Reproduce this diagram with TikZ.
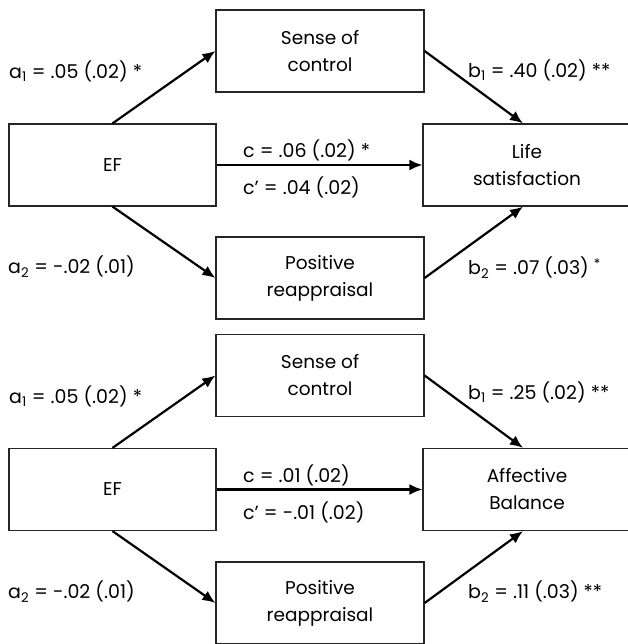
\documentclass[tikz,border=0pt]{standalone}
\usepackage{fontspec}
\setmainfont{Poppins}
\usepackage{xcolor}
\usepackage{tikz}
\usetikzlibrary{arrows.meta,positioning}

\tikzset{
    varbox/.style={draw=black!85, line width=1.2pt, minimum width=208pt, minimum height=82pt,
        inner sep=0pt, align=center, font=\fontsize{18.5}{27}\selectfont},
    path/.style={line width=2.2pt, -{Latex[length=13pt,width=11pt]}},
    coef/.style={anchor=west, inner sep=0pt, font=\fontsize{19}{22}\selectfont}
}

\begin{document}
\begin{tikzpicture}[x=1pt,y=-1pt]
    \useasboundingbox (0,0) rectangle (627,644);

    % Life satisfaction model
    \node[varbox] (sense1) at (320,51) {Sense of\\control};
    \node[varbox, minimum width=207pt] (ef1) at (112.5,165) {EF};
    \node[varbox] (life1) at (527,165) {Life\\satisfaction};
    \node[varbox] (pos1) at (320,278) {Positive\\reappraisal};

    \draw[path] (ef1.north) -- (sense1.west);
    \draw[path] (ef1.south) -- (pos1.west);
    \draw[path] (ef1.east) -- (life1.west);
    \draw[path] (sense1.east) -- ([xshift=-4pt]life1.north);
    \draw[path] (pos1.east) -- ([xshift=-4pt]life1.south);

    \node[coef] (a11) at (9,71) {a\textsubscript{1} = .05 (.02) *};
    \node[coef] (a21) at (8,267) {a\textsubscript{2} = -.02 (.01)};
    \node[coef] (c1) at (243,150) {c = .06 (.02) *};
    \node[coef] (cp1) at (243,187) {c’ = .04 (.02)};
    \node[coef] (b11) at (468,70) {b\textsubscript{1} = .40 (.02) **};
    \node[coef] (b21) at (468,268) {b\textsubscript{2} = .07 (.03) \textsuperscript{*}};

    % Affective balance model
    \node[varbox] (sense2) at (320,375.5) {Sense of\\control};
    \node[varbox, minimum width=207pt] (ef2) at (112.5,489.5) {EF};
    \node[varbox] (aff2) at (527,489.5) {Affective\\Balance};
    \node[varbox] (pos2) at (320,603) {Positive\\reappraisal};

    \draw[path] (ef2.north) -- (sense2.west);
    \draw[path] (ef2.south) -- (pos2.west);
    \draw[path] (ef2.east) -- (aff2.west);
    \draw[path] (sense2.east) -- ([xshift=-4pt]aff2.north);
    \draw[path] (pos2.east) -- ([xshift=-4pt]aff2.south);

    \node[coef] (a12) at (9,396) {a\textsubscript{1} = .05 (.02) *};
    \node[coef] (a22) at (8,592) {a\textsubscript{2} = -.02 (.01)};
    \node[coef] (c2) at (243,475) {c = .01 (.02)};
    \node[coef] (cp2) at (243,512) {c’ = -.01 (.02)};
    \node[coef] (b12) at (468,392) {b\textsubscript{1} = .25 (.02) **};
    \node[coef] (b22) at (468,592) {b\textsubscript{2} = .11 (.03) **};
\end{tikzpicture}
\end{document}
